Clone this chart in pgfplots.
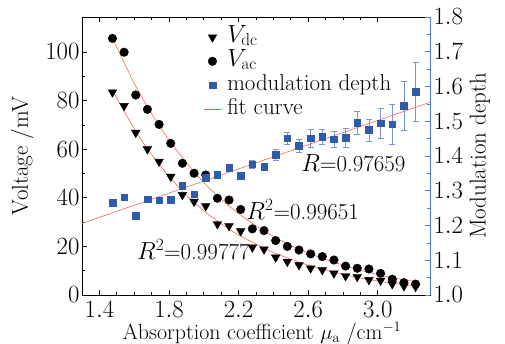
\documentclass[border=0pt]{standalone}
\usepackage{pgfplots}
\usepackage{pgfplotstable}
\pgfplotsset{compat=1.18}
\definecolor{mdblue}{RGB}{46,92,168}
\definecolor{errblue}{RGB}{120,150,210}
\definecolor{axblue}{RGB}{80,120,200}
\definecolor{fitred}{RGB}{240,105,85}

\pgfplotstableread{
x vdc vac
1.475 83.4 105.6
1.542 77.8 99.9
1.609 66.8 82.3
1.676 60.0 76.4
1.743 54.9 70.2
1.810 48.7 62.4
1.877 41.2 54.2
1.944 38.4 50.1
2.011 36.6 49.4
2.078 29.2 39.8
2.145 28.4 39.1
2.212 26.3 35.2
2.279 19.6 27.2
2.346 18.8 26.5
2.413 15.5 22.4
2.480 13.7 20.0
2.547 12.3 18.5
2.614 11.0 16.9
2.681 10.3 15.8
2.748 8.9 14.4
2.815 7.8 11.9
2.882 7.5 11.0
2.949 6.2 10.7
3.016 5.9 8.9
3.083 4.5 6.5
3.150 3.7 5.1
3.217 3.4 4.5
}\volt

\pgfplotstableread{
x m e
1.475 1.266 0.005
1.542 1.281 0.005
1.609 1.229 0.004
1.676 1.276 0.005
1.743 1.273 0.005
1.810 1.275 0.005
1.877 1.314 0.008
1.944 1.290 0.006
2.011 1.338 0.006
2.078 1.347 0.006
2.145 1.367 0.007
2.212 1.343 0.007
2.279 1.376 0.012
2.346 1.369 0.008
2.413 1.403 0.015
2.480 1.451 0.016
2.547 1.429 0.018
2.614 1.451 0.025
2.681 1.456 0.021
2.748 1.448 0.022
2.815 1.453 0.027
2.882 1.496 0.033
2.949 1.475 0.032
3.016 1.494 0.042
3.083 1.492 0.058
3.150 1.544 0.070
3.217 1.585 0.086
}\moddepth

\pgfplotstableread{
x y
1.47 106.5
1.6 87.1
1.7 74.6
1.8 63.8
1.9 54.5
2.0 46.3
2.1 39.4
2.2 33.5
2.3 28.5
2.4 24.1
2.5 20.4
2.6 17.3
2.7 14.6
2.8 12.35
2.9 10.2
3.0 8.4
3.1 6.9
3.2 5.7
3.225 5.45
}\fitac

\pgfplotstableread{
x y
1.474 84.4
1.6 68.4
1.681 59.7
1.8 48.8
1.9 41.1
2.0 34.7
2.1 29.3
2.2 24.7
2.323 20.1
2.4 17.5
2.5 14.7
2.6 12.3
2.7 10.3
2.8 8.6
2.9 7.0
3.0 5.75
3.1 4.7
3.2 3.86
3.225 3.7
}\fitdc

\begin{document}
\begin{tikzpicture}[font=\fontsize{23}{26}\selectfont]
\useasboundingbox (-82bp,-49bp) rectangle (423bp,295bp);
\begin{axis}[
  scale only axis, width=348bp, height=278bp,
  xmin=1.3, xmax=3.3, ymin=0, ymax=114.4,
  xtick pos=both, ytick pos=left,
  tick align=inside,
  xtick={1.4,1.8,2.2,2.6,3.0}, minor x tick num=3,
  ytick={0,20,40,60,80,100}, minor y tick num=1,
  xticklabel style={/pgf/number format/.cd,fixed,fixed zerofill,precision=1,/tikz/.cd,inner sep=1bp,yshift=-5bp},
  yticklabel style={xshift=1bp},
  major tick length=5bp, minor tick length=3bp,
  tick style={line width=0.7pt, black},
  axis line style={line width=0.8pt},
  xlabel={Absorption coefficient $\mu_{\mathrm{a}}$ /cm$^{-1}$},
  xlabel style={at={(axis description cs:0.5,0)}, anchor=north, inner sep=1bp, yshift=-26.3bp, xshift=6bp,
    font=\fontsize{22}{25}\selectfont},
  ylabel={Voltage /mV},
  ylabel style={at={(axis description cs:0,0.5)}, anchor=south, yshift=45bp},
]
\addplot[fitred, line width=0.6pt, smooth] table[x=x,y=y]{\fitac};
\addplot[fitred, line width=0.6pt, smooth] table[x=x,y=y]{\fitdc};
\addplot[only marks, mark=triangle*, mark size=5bp, mark options={rotate=180, fill=black, draw=black}] table[x=x,y=vdc]{\volt};
\addplot[only marks, mark=*, mark size=4.3bp, mark options={fill=black, draw=black}] table[x=x,y=vac]{\volt};
\node at (axis cs:2.86,54.3) {$R$=0.97659};
\node[anchor=west] at (axis cs:2.225,35) {$R^2$=0.99651};
\node at (axis cs:1.94,18.5) {$R^2$=0.99777};
\end{axis}
\begin{axis}[
  scale only axis, width=348bp, height=278bp,
  xmin=1.3, xmax=3.3, ymin=1.0, ymax=1.8,
  axis y line*=right, axis x line=none,
  tick align=inside,
  ytick={1.0,1.1,1.2,1.3,1.4,1.5,1.6,1.7,1.8}, minor y tick num=1,
  yticklabel style={/pgf/number format/.cd,fixed,fixed zerofill,precision=1},
  major tick length=5bp, minor tick length=3bp,
  tick style={line width=0.7pt, axblue},
  y axis line style={line width=0.8pt, axblue},
  ylabel={Modulation depth},
  legend style={draw=none, fill=none, at={(0.349,0.971)}, anchor=north west, row sep=0bp,
    inner sep=0pt, nodes={inner sep=0pt, text height=17bp, text depth=7bp},
    /tikz/every odd column/.append style={column sep=6bp}},
  legend cell align=left,
]
\addlegendimage{only marks, mark=triangle*, mark size=5bp, mark options={rotate=180, fill=black, draw=black}}
\addlegendentry{$V_{\mathrm{dc}}$}
\addlegendimage{only marks, mark=*, mark size=4.3bp, mark options={fill=black, draw=black}}
\addlegendentry{$V_{\mathrm{ac}}$}
\addplot[only marks, mark=square*, mark size=3.3bp, mark options={fill=mdblue, draw=mdblue},
  error bars/.cd, y dir=both, y explicit,
  error bar style={errblue, line width=0.6pt},
  error mark options={rotate=90, mark size=3bp, errblue, line width=0.6pt}]
  table[x=x,y=m,y error=e]{\moddepth};
\addlegendentry{modulation depth}
\addplot[fitred, line width=0.6pt] coordinates {(1.3,1.206) (3.3,1.5545)};
\addlegendentry{fit curve}
\end{axis}
\end{tikzpicture}
\end{document}
